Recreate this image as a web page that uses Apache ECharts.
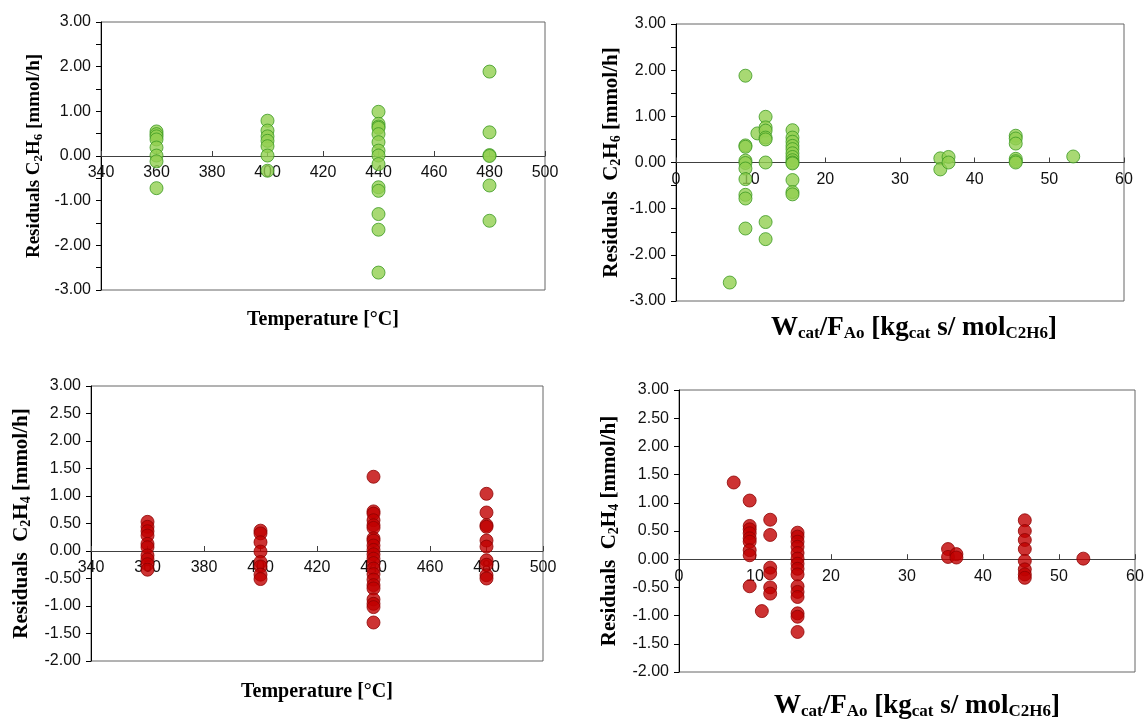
<!DOCTYPE html>
<html>
<head>
<meta charset="utf-8">
<script src="https://cdn.jsdelivr.net/npm/echarts@6/dist/echarts.min.js"></script>
<style>html,body{margin:0;padding:0;background:#fff;}#c{width:1146px;height:719px;}</style>
</head>
<body>
<div id="c"></div>
<script>
// ---- data ----
const temps = [360, 400, 440, 480];
const c2h6ResByTemp = [
  [0.55, 0.49, 0.44, 0.37, 0.19, 0.01, -0.12, -0.72],
  [0.79, 0.57, 0.44, 0.34, 0.22, 0.01, -0.33],
  [0.99, 0.72, 0.66, 0.63, 0.49, 0.31, 0.12, 0.01, -0.18, -0.70, -0.78, -1.30, -1.65, -2.61],
  [1.89, 0.53, 0.02, 0.00, -0.66, -1.45]
];
const c2h4ResByTemp = [
  [0.53, 0.44, 0.36, 0.28, 0.13, 0.07, -0.08, -0.15, -0.24, -0.34],
  [0.37, 0.32, 0.16, -0.01, -0.20, -0.28, -0.43, -0.51],
  [1.35, 0.72, 0.68, 0.56, 0.47, 0.42, 0.23, 0.19, 0.10, 0.02, -0.06, -0.14, -0.22, -0.32, -0.42, -0.52, -0.62, -0.68, -0.88, -0.96, -1.02, -1.30],
  [1.04, 0.70, 0.47, 0.44, 0.19, 0.08, -0.17, -0.25, -0.44, -0.50]
];
const wf = [7.2, 9.3, 10.9, 12.0, 15.6, 35.4, 36.5, 45.5, 53.2];
const c2h6ResByWF = [
  [-2.60],
  [1.88, 0.37, 0.34, 0.04, -0.01, -0.13, -0.36, -0.70, -0.78, -1.43],
  [0.63],
  [0.99, 0.76, 0.69, 0.54, 0.50, 0.00, -1.29, -1.66],
  [0.70, 0.54, 0.45, 0.36, 0.29, 0.20, 0.12, 0.05, 0.00, -0.02, -0.38, -0.64, -0.69],
  [0.09, -0.15],
  [0.12, 0.00],
  [0.58, 0.52, 0.41, 0.08, 0.03, 0.00],
  [0.13]
];
const c2h4ResByWF = [
  [1.36],
  [1.04, 0.59, 0.53, 0.46, 0.37, 0.31, 0.16, 0.07, -0.48],
  [-0.92],
  [0.70, 0.43, -0.15, -0.25, -0.50, -0.61],
  [0.47, 0.40, 0.31, 0.22, 0.11, 0.01, -0.08, -0.17, -0.27, -0.48, -0.58, -0.67, -0.96, -1.02, -1.29],
  [0.18, 0.04],
  [0.09, 0.03],
  [0.69, 0.50, 0.34, 0.18, -0.03, -0.18, -0.27, -0.33],
  [0.01]
];
const tempTicks = {min: 340, max: 500, interval: 20};
const wfTicks = {min: 0, max: 60, interval: 10};
const resC2H6Range = {min: -3, max: 3, interval: 0.5};
const resC2H4Range = {min: -2, max: 3, interval: 0.5};

// ---- build ----
function flatten(xs, groups) {
  const out = [];
  groups.forEach((g, i) => g.forEach(v => out.push([xs[i], v])));
  return out;
}
const SANS = 'Liberation Sans';
const SERIF = 'Liberation Serif';
const subRich = (size, sub, pad) => ({
  b: {fontFamily: SERIF, fontWeight: 'bold', fontSize: size, color: '#000'},
  s: {fontFamily: SERIF, fontWeight: 'bold', fontSize: sub, color: '#000', padding: [pad, 0, 0, 0]}
});
const yNameC2H6 = '{b|Residuals C}{s|2}{b|H}{s|6}{b| [mmol/h]}';
const yNameC2H6b = '{b|Residuals  C}{s|2}{b|H}{s|6}{b| [mmol/h]}';
const yNameC2H4 = '{b|Residuals  C}{s|2}{b|H}{s|4}{b| [mmol/h]}';
const xNameWF = '{b|W}{s|cat}{b|/F}{s|Ao}{b| [kg}{s|cat}{b| s/ mol}{s|C2H6}{b|]}';

const grids = [
  {left: 101, top: 22, width: 444, height: 268},
  {left: 676, top: 24, width: 448, height: 277},
  {left: 91, top: 386, width: 452, height: 275},
  {left: 679, top: 390, width: 456, height: 282}
];
const yRanges = [resC2H6Range, resC2H6Range, resC2H4Range, resC2H4Range];

function xAxis(idx, ticks, name, gap, rich, shift) {
  // place the x axis on the y = 0 line (Excel "horizontal axis crosses at 0")
  const yr = yRanges[idx];
  const off = -grids[idx].height * (0 - yr.min) / (yr.max - yr.min);
  const nts = rich ? {rich: rich} : {fontFamily: SERIF, fontWeight: 'bold', fontSize: 20, color: '#000'};
  if (shift) nts.padding = [0, 0, 0, shift];
  return {
    type: 'value', gridIndex: idx, min: ticks.min, max: ticks.max, interval: ticks.interval,
    position: 'bottom', offset: off,
    axisLine: {onZero: false, lineStyle: {color: '#404040', width: 1}},
    axisTick: {show: true, inside: true, length: 5, lineStyle: {color: '#404040'}},
    axisLabel: {fontFamily: SANS, fontSize: 16, color: '#111', margin: 9},
    splitLine: {show: false},
    name: name, nameLocation: 'middle', nameGap: gap,
    nameTextStyle: nts
  };
}
function yAxis(idx, intOnly, name, gap, rich) {
  const r = yRanges[idx];
  return {
    type: 'value', gridIndex: idx, min: r.min, max: r.max, interval: r.interval,
    axisLine: {show: true, onZero: false, lineStyle: {color: '#000', width: 1}},
    axisTick: {show: true, inside: false, length: 5, lineStyle: {color: '#000'}},
    axisLabel: {
      fontFamily: SANS, fontSize: 16, color: '#111', margin: 10,
      formatter: v => (intOnly && Math.abs(v - Math.round(v)) > 1e-6) ? '' : v.toFixed(2)
    },
    splitLine: {show: false},
    name: name, nameLocation: 'middle', nameGap: gap, nameRotate: 90,
    nameTextStyle: {rich: rich}
  };
}
const green = {color: '#92D050', borderColor: '#3C9A22', borderWidth: 1};
const red = {color: '#C00000', borderColor: '#8E0000', borderWidth: 1};
function series(idx, data, style) {
  return {type: 'scatter', xAxisIndex: idx, yAxisIndex: idx, data: data, symbol: 'circle', symbolSize: 13, itemStyle: style, emphasis: {disabled: true}, animation: false};
}
const gridBase = {show: true, borderColor: '#666', borderWidth: 1, containLabel: false, outerBoundsMode: 'none'};
const option = {
  animation: false,
  grid: grids.map(g => Object.assign({}, g, gridBase)),
  xAxis: [
    xAxis(0, tempTicks, 'Temperature [°C]', 154, null, 0),
    xAxis(1, wfTicks, xNameWF, 151, subRich(27, 17, 12), 28),
    xAxis(2, tempTicks, 'Temperature [°C]', 131, null, 0),
    xAxis(3, wfTicks, xNameWF, 132, subRich(27, 17, 12), 20)
  ],
  yAxis: [
    yAxis(0, true, yNameC2H6, 56, subRich(19, 13, 9)),
    yAxis(1, true, yNameC2H6b, 53, subRich(21, 14, 9)),
    yAxis(2, false, yNameC2H4, 58, subRich(21, 14, 9)),
    yAxis(3, false, yNameC2H4, 58, subRich(21, 14, 9))
  ],
  series: [
    series(0, flatten(temps, c2h6ResByTemp), green),
    series(1, flatten(wf, c2h6ResByWF), green),
    series(2, flatten(temps, c2h4ResByTemp), red),
    series(3, flatten(wf, c2h4ResByWF), red)
  ]
};
const chart = echarts.init(document.getElementById('c'), null, {renderer: 'canvas'});
chart.setOption(option);
</script>
</body>
</html>
